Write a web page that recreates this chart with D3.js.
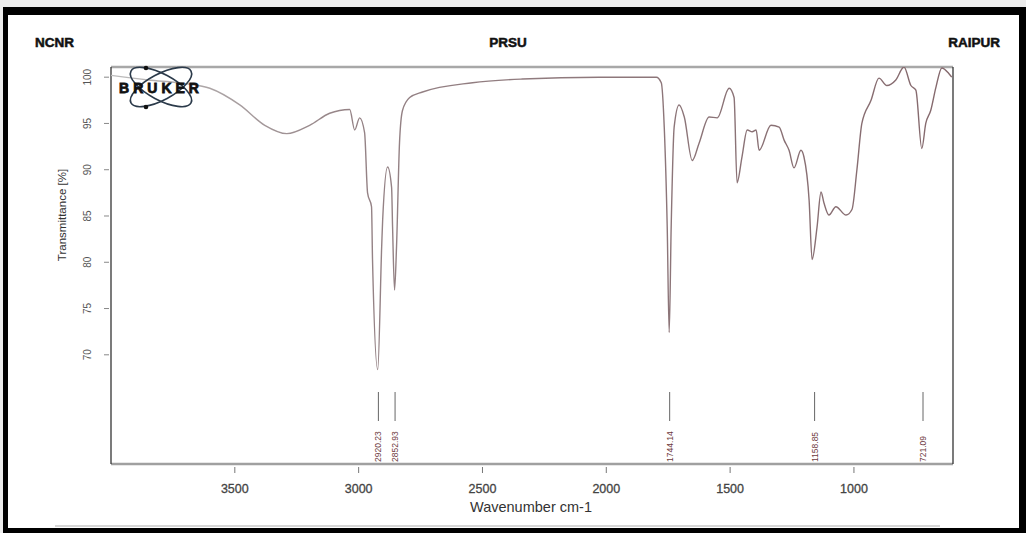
<!DOCTYPE html>
<html>
<head>
<meta charset="utf-8">
<script src="https://cdn.jsdelivr.net/npm/d3@7"></script>
<style>
  html, body { margin: 0; padding: 0; background: #ececec; }
  svg { display: block; }
</style>
</head>
<body>
<svg width="1026" height="533"></svg>
<script>
// ---------- data ----------
const wavenumbers = [4000, 3850, 3700, 3601, 3480, 3379, 3290, 3198, 3117, 3077, 3036, 3016, 2996, 2976,
  2964, 2948, 2944, 2923, 2907, 2903, 2883, 2867, 2863, 2855, 2847, 2835, 2823, 2794, 2742, 2540,
  2339, 2028, 1798, 1778, 1766, 1754, 1746, 1738, 1726, 1706, 1685, 1653, 1625, 1585, 1552, 1504,
  1484, 1472, 1452, 1431, 1411, 1395, 1383, 1335, 1302, 1282, 1262, 1242, 1214, 1202, 1181, 1169,
  1149, 1133, 1121, 1101, 1073, 1032, 1008, 988, 968, 931, 899, 867, 831, 798, 770, 750, 726, 710,
  690, 669, 645, 617, 605];
const transmittance = [100.2, 99.7, 99.3, 98.8, 97.0, 94.8, 93.9, 94.8, 96.1, 96.4, 96.5, 94.3, 95.6, 94.0,
  87.5, 86.0, 80.3, 68.4, 81.7, 84.6, 90.3, 88.1, 83.8, 77.0, 81.7, 92.9, 96.4, 97.8, 98.4, 99.4,
  99.8, 100.0, 100.0, 99.4, 94.6, 83.8, 72.4, 83.8, 94.6, 97.0, 95.7, 91.0, 92.9, 95.7, 95.6, 98.8,
  97.8, 88.6, 91.4, 94.3, 94.1, 94.3, 92.1, 94.8, 94.6, 93.2, 92.1, 90.2, 92.1, 91.4, 86.7, 80.3,
  83.8, 87.6, 86.4, 85.1, 86.0, 85.1, 85.7, 90.0, 95.0, 97.5, 99.9, 99.1, 99.7, 101.1, 99.1, 98.6, 92.3, 95.0,
  96.4, 98.9, 101.0, 100.4, 100.0];
const xTicks = [3500, 3000, 2500, 2000, 1500, 1000];
const yTicks = [70, 75, 80, 85, 90, 95, 100];
const peakWaves = [2920.23, 2852.93, 1744.14, 1158.85, 721.09];
const peakLabels = ["2920.23", "2852.93", "1744.14", "1158.85", "721.09"];
const headerLabels = ["NCNR", "PRSU", "RAIPUR"];

const data = wavenumbers.map((w, i) => ({ w: w, t: transmittance[i] }));

const svg = d3.select("svg");

// outer frame
svg.append("rect").attr("x", 3).attr("y", 7).attr("width", 1023).attr("height", 526).attr("fill", "#000");
svg.append("rect").attr("x", 8).attr("y", 15).attr("width", 1011).attr("height", 513).attr("fill", "#fff");
svg.append("line").attr("x1", 55).attr("x2", 940).attr("y1", 526).attr("y2", 526)
  .attr("stroke", "#c8c8c8").attr("stroke-width", 1.5);

// header
const headerX = [35, 508, 1000];
const headerAnchor = ["start", "middle", "end"];
svg.selectAll(".hdr")
  .data(headerLabels)
  .enter().append("text")
  .attr("x", (d, i) => headerX[i])
  .attr("y", 47)
  .attr("text-anchor", (d, i) => headerAnchor[i])
  .attr("font-family", "Liberation Sans, Arial, sans-serif")
  .attr("font-weight", 900)
  .attr("font-size", 13.5)
  .attr("stroke", "#111").attr("stroke-width", 0.5)
  .attr("fill", "#111")
  .text(d => d);

// ---------- plot ----------
const pLeft = 111, pRight = 953, pTop = 67, pBottom = 464;

const x = d3.scaleLinear().domain([4000, 600]).range([pLeft, pRight]);
const y = d3.scaleLinear().domain([58.2, 101.1]).range([pBottom, pTop]);

const defs = svg.append("defs");
defs.append("clipPath").attr("id", "plotclip")
  .append("rect").attr("x", pLeft).attr("y", pTop).attr("width", pRight - pLeft).attr("height", pBottom - pTop);

const grad = defs.append("linearGradient")
  .attr("id", "linegrad")
  .attr("gradientUnits", "userSpaceOnUse")
  .attr("x1", pLeft).attr("x2", pRight).attr("y1", 0).attr("y2", 0);
grad.append("stop").attr("offset", "0%").attr("stop-color", "#bdbdbd");
grad.append("stop").attr("offset", "28%").attr("stop-color", "#958386");
grad.append("stop").attr("offset", "100%").attr("stop-color", "#85696d");

// y axis ticks + labels
const yAxis = svg.append("g");
yAxis.selectAll("line")
  .data(yTicks)
  .enter().append("line")
  .attr("x1", 104).attr("x2", 109)
  .attr("y1", d => y(d)).attr("y2", d => y(d))
  .attr("stroke", "#888").attr("stroke-width", 1);
yAxis.selectAll("text")
  .data(yTicks)
  .enter().append("text")
  .attr("transform", d => `translate(91,${y(d)}) rotate(-90)`)
  .attr("text-anchor", "middle")
  .attr("font-family", "Liberation Sans, Arial, sans-serif")
  .attr("font-size", 10)
  .attr("fill", "#555")
  .text(d => d);

svg.append("text")
  .attr("transform", `translate(66,215) rotate(-90)`)
  .attr("text-anchor", "middle")
  .attr("font-family", "Liberation Sans, Arial, sans-serif")
  .attr("font-size", 11.5)
  .attr("fill", "#333")
  .text("Transmittance [%]");

// x axis ticks + labels
const xAxis = svg.append("g");
xAxis.selectAll("line")
  .data(xTicks)
  .enter().append("line")
  .attr("x1", d => x(d)).attr("x2", d => x(d))
  .attr("y1", 467).attr("y2", 473)
  .attr("stroke", "#777").attr("stroke-width", 1);
xAxis.selectAll("text")
  .data(xTicks)
  .enter().append("text")
  .attr("x", d => x(d))
  .attr("y", 493)
  .attr("text-anchor", "middle")
  .attr("font-family", "Liberation Sans, Arial, sans-serif")
  .attr("font-size", 12.5)
  .attr("stroke", "#444").attr("stroke-width", 0.3)
  .attr("fill", "#444")
  .text(d => d);

svg.append("text")
  .attr("x", 531).attr("y", 512)
  .attr("text-anchor", "middle")
  .attr("font-family", "Liberation Sans, Arial, sans-serif")
  .attr("font-size", 14.5)
  .attr("fill", "#333")
  .text("Wavenumber cm-1");

// plot frame
svg.append("line").attr("x1", pLeft).attr("x2", pRight).attr("y1", pTop).attr("y2", pTop)
  .attr("stroke", "#a8a8a8").attr("stroke-width", 2.5);
svg.append("line").attr("x1", pLeft).attr("x2", pRight).attr("y1", pBottom).attr("y2", pBottom)
  .attr("stroke", "#a0a0a0").attr("stroke-width", 2.5);
svg.append("line").attr("x1", pLeft).attr("x2", pLeft).attr("y1", pTop).attr("y2", pBottom)
  .attr("stroke", "#333").attr("stroke-width", 1.3);
svg.append("line").attr("x1", pRight).attr("x2", pRight).attr("y1", pTop).attr("y2", pBottom)
  .attr("stroke", "#333").attr("stroke-width", 1.3);

// spectrum
const line = d3.line()
  .x(d => x(d.w))
  .y(d => y(d.t))
  .curve(d3.curveMonotoneX);

svg.append("path")
  .datum(data)
  .attr("clip-path", "url(#plotclip)")
  .attr("fill", "none")
  .attr("stroke", "url(#linegrad)")
  .attr("stroke-width", 1.4)
  .attr("d", line);

// peak markers
const peaks = svg.append("g");
peaks.selectAll("line")
  .data(peakWaves)
  .enter().append("line")
  .attr("x1", d => x(d)).attr("x2", d => x(d))
  .attr("y1", 392).attr("y2", 421)
  .attr("stroke", "#555").attr("stroke-width", 0.9);
peaks.selectAll("text")
  .data(peakWaves)
  .enter().append("text")
  .attr("transform", d => `translate(${x(d) + 3},462) rotate(-90)`)
  .attr("text-anchor", "start")
  .attr("font-family", "Liberation Sans, Arial, sans-serif")
  .attr("font-size", 8.5)
  .attr("fill", "#6e3a3e")
  .text((d, i) => peakLabels[i]);

// BRUKER logo
const logo = svg.append("g").attr("transform", "translate(161,87)");
logo.append("ellipse").attr("rx", 34).attr("ry", 13).attr("transform", "rotate(28)")
  .attr("fill", "none").attr("stroke", "#2b3a4a").attr("stroke-width", 1.6);
logo.append("ellipse").attr("rx", 34).attr("ry", 13).attr("transform", "rotate(-28)")
  .attr("fill", "none").attr("stroke", "#2b3a4a").attr("stroke-width", 1.6);
logo.append("circle").attr("cx", -15).attr("cy", -19).attr("r", 2.3).attr("fill", "#111");
logo.append("circle").attr("cx", -15).attr("cy", 20).attr("r", 2.3).attr("fill", "#111");
logo.append("text")
  .attr("x", 0).attr("y", 5.5)
  .attr("text-anchor", "middle")
  .attr("font-family", "Liberation Sans, Arial, sans-serif")
  .attr("font-weight", 900)
  .attr("font-size", 14)
  .attr("letter-spacing", 4)
  .attr("stroke", "#111").attr("stroke-width", 0.8)
  .attr("fill", "#111")
  .text("BRUKER");
</script>
</body>
</html>
